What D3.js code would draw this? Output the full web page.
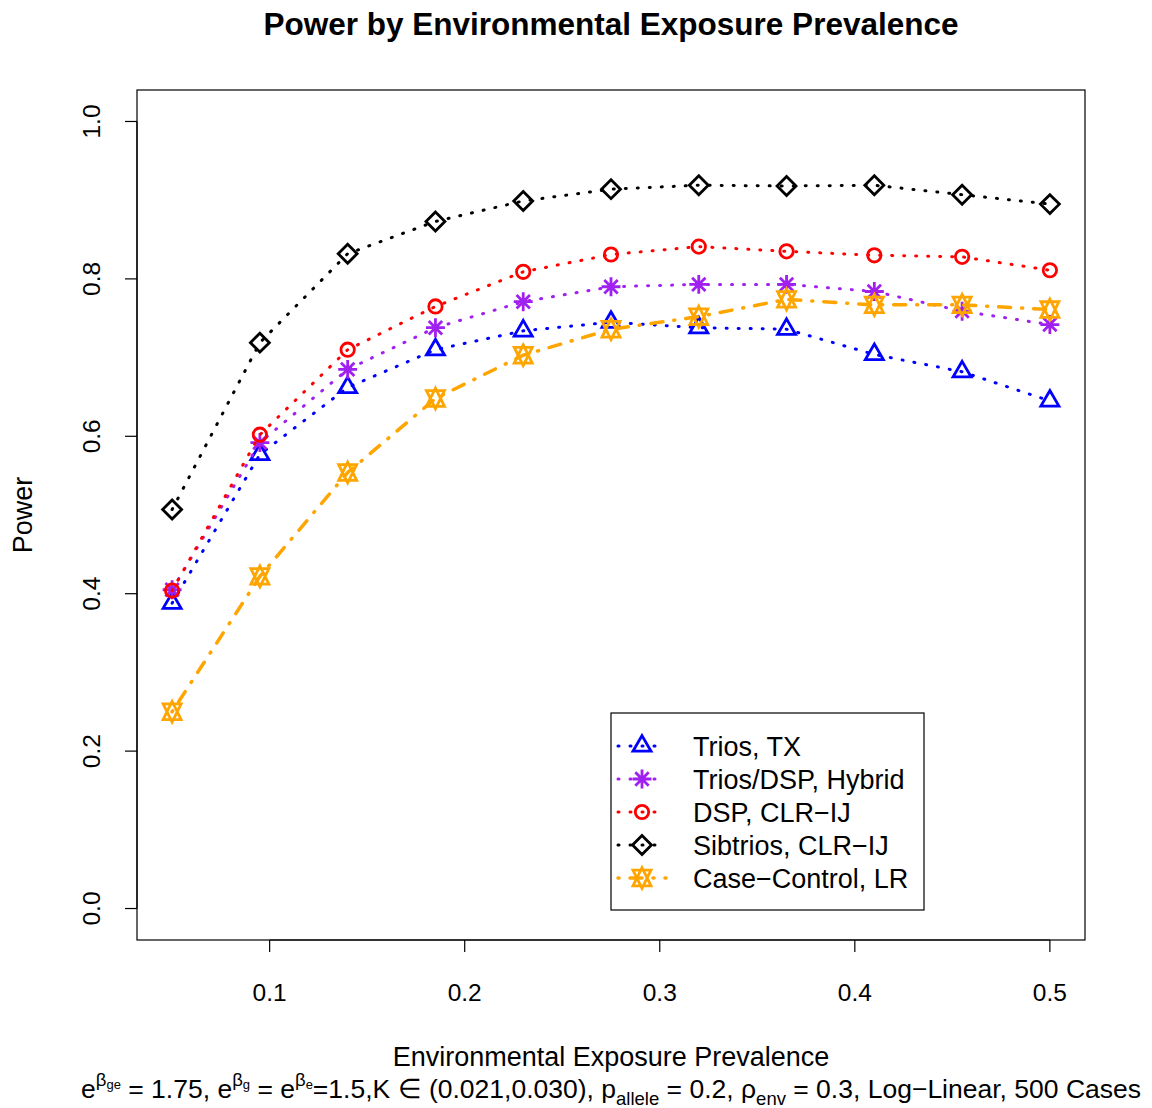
<!DOCTYPE html>
<html><head><meta charset="utf-8">
<script src="https://cdn.jsdelivr.net/npm/d3@7"></script>
<style>body{margin:0;background:#fff}</style>
</head><body>
<svg id="c" width="1152" height="1108"></svg>
<script>
const prevalence = [0.05, 0.095, 0.14, 0.185, 0.23, 0.275, 0.32, 0.365, 0.41, 0.455, 0.5];
const triosTX    = [0.388, 0.577, 0.662, 0.710, 0.734, 0.745, 0.738, 0.736, 0.704, 0.682, 0.645];
const hybrid     = [0.405, 0.592, 0.685, 0.738, 0.771, 0.790, 0.793, 0.793, 0.784, 0.759, 0.742];
const dspCLR     = [0.404, 0.602, 0.710, 0.765, 0.809, 0.831, 0.841, 0.835, 0.830, 0.828, 0.811];
const sibtrios   = [0.507, 0.719, 0.832, 0.873, 0.899, 0.914, 0.919, 0.918, 0.919, 0.907, 0.895];
const caseCtrl   = [0.250, 0.422, 0.554, 0.648, 0.703, 0.736, 0.752, 0.774, 0.767, 0.767, 0.761];
const seriesNames = ["Trios, TX", "Trios/DSP, Hybrid", "DSP, CLR\u2212IJ", "Sibtrios, CLR\u2212IJ", "Case\u2212Control, LR"];
const xTicks = [0.1, 0.2, 0.3, 0.4, 0.5];
const yTicks = [0.0, 0.2, 0.4, 0.6, 0.8, 1.0];

const series = [
  {name: seriesNames[0], values: triosTX,  color: "#0000FF", shape: "tri",   dash: "1 11", lw: 3},
  {name: seriesNames[1], values: hybrid,   color: "#A020F0", shape: "ast",   dash: "1 11", lw: 3},
  {name: seriesNames[2], values: dspCLR,   color: "#FF0000", shape: "circ",  dash: "1 11", lw: 3},
  {name: seriesNames[3], values: sibtrios, color: "#000000", shape: "diam",  dash: "1 11", lw: 3},
  {name: seriesNames[4], values: caseCtrl, color: "#FFA500", shape: "david", dash: "1 11 12 11", lw: 3.5}
];

const FONT = "'Liberation Sans', Arial, Helvetica, sans-serif";
const svg = d3.select("#c").style("font-family", FONT);
const L = 137, R = 1085, T = 90, B = 940;
const x = d3.scaleLinear().domain([0.032, 0.518]).range([L, R]);
const y = d3.scaleLinear().domain([-0.04, 1.04]).range([B, T]);

const u = 6.7;
function marker(g, shape, cx, cy, color) {
  const s = g.append("g").attr("transform", `translate(${cx},${cy})`)
    .attr("fill", "none").attr("stroke", color).attr("stroke-width", 2.8);
  if (shape === "tri") {
    const r = 1.555*u, yc = 0.7776*u, xc = 1.347*u;
    s.append("path").attr("d", `M0,${-r}L${xc},${yc}L${-xc},${yc}Z`);
  } else if (shape === "circ") {
    s.append("circle").attr("r", u);
  } else if (shape === "diam") {
    const r = 1.414*u;
    s.append("path").attr("d", `M0,${-r}L${r},0L0,${r}L${-r},0Z`);
  } else if (shape === "ast") {
    const p = 1.414*u, d = u;
    s.append("path").attr("d", `M${-p},0L${p},0M0,${-p}L0,${p}M${-d},${-d}L${d},${d}M${-d},${d}L${d},${-d}`);
  } else if (shape === "david") {
    const r = 1.555*u, yc = 0.5*(0.7776*u + r), xc = 1.347*u;
    s.append("path").attr("d", `M0,${-r}L${xc},${yc}L${-xc},${yc}ZM0,${r}L${xc},${-yc}L${-xc},${-yc}Z`);
  }
}

// title
svg.append("text").attr("x", 611).attr("y", 35).attr("text-anchor", "middle")
  .attr("font-size", 31.5).attr("font-weight", "bold").text("Power by Environmental Exposure Prevalence");

// box
svg.append("rect").attr("x", L).attr("y", T).attr("width", R-L).attr("height", B-T)
  .attr("fill", "none").attr("stroke", "#000").attr("stroke-width", 1.2);

// x axis
const gx = svg.append("g");
gx.append("line").attr("x1", x(0.1)).attr("x2", x(0.5)).attr("y1", B).attr("y2", B).attr("stroke", "#000").attr("stroke-width", 1.2);
xTicks.forEach(t => {
  gx.append("line").attr("x1", x(t)).attr("x2", x(t)).attr("y1", B).attr("y2", B+12).attr("stroke", "#000").attr("stroke-width", 1.2);
  gx.append("text").attr("x", x(t)).attr("y", 1001).attr("text-anchor", "middle").attr("font-size", 24.5).text(d3.format(".1f")(t));
});
// y axis
const gy = svg.append("g");
gy.append("line").attr("y1", y(0)).attr("y2", y(1)).attr("x1", L).attr("x2", L).attr("stroke", "#000").attr("stroke-width", 1.2);
yTicks.forEach(t => {
  gy.append("line").attr("y1", y(t)).attr("y2", y(t)).attr("x1", L).attr("x2", L-12).attr("stroke", "#000").attr("stroke-width", 1.2);
  gy.append("text").attr("transform", `translate(100,${y(t)}) rotate(-90)`).attr("text-anchor", "middle").attr("font-size", 24.5).text(d3.format(".1f")(t));
});

// axis titles
svg.append("text").attr("transform", `translate(32,${(T+B)/2}) rotate(-90)`).attr("text-anchor", "middle").attr("font-size", 27).text("Power");
svg.append("text").attr("x", 611).attr("y", 1066).attr("text-anchor", "middle").attr("font-size", 27).text("Environmental Exposure Prevalence");

// subtitle
const sub = svg.append("text").attr("x", 611).attr("y", 1098).attr("text-anchor", "middle").attr("font-size", 26.5);
const parts = [
  ["e",""],["\u03B2","sup"],["ge","supsub"],[" = 1.75, e",""],["\u03B2","sup"],["g","supsub"],[" = e",""],["\u03B2","sup"],["e","supsub"],
  ["=1.5,K \u2208 (0.021,0.030), p",""],["allele","sub"],[" = 0.2, \u03C1",""],["env","sub"],[" = 0.3, Log\u2212Linear, 500 Cases",""]
];
const shift = {"": 0, sup: -12, supsub: -9, sub: 7};
const fsz = {"": 26.5, sup: 18.5, supsub: 13, sub: 18.5};
parts.forEach(([t, k], i) => {
  const prev = i > 0 ? parts[i-1][1] : "";
  sub.append("tspan").text(t).attr("font-size", fsz[k]).attr("dy", shift[k] - shift[prev]);
});

// series
const line = d3.line().x((d, i) => x(prevalence[i])).y(d => y(d));
const plot = svg.append("g");
series.forEach(s => {
  plot.append("path").attr("d", line(s.values)).attr("fill", "none").attr("stroke", s.color)
    .attr("stroke-width", s.lw).attr("stroke-dasharray", s.dash).attr("stroke-linecap", "round");
  s.values.forEach((v, i) => marker(plot, s.shape, x(prevalence[i]), y(v), s.color));
});

// legend
const lg = svg.append("g");
lg.append("rect").attr("x", 611).attr("y", 713).attr("width", 313).attr("height", 197)
  .attr("fill", "#fff").attr("stroke", "#000").attr("stroke-width", 1.2);
series.forEach((s, i) => {
  const cy = 746 + i*33;
  lg.append("line").attr("x1", 618).attr("x2", 666).attr("y1", cy).attr("y2", cy)
    .attr("stroke", s.color).attr("stroke-width", s.lw).attr("stroke-dasharray", s.dash).attr("stroke-linecap", "round");
  marker(lg, s.shape, 642, cy, s.color);
  lg.append("text").attr("x", 693).attr("y", cy + 9.5).attr("font-size", 27).text(s.name);
});
</script>
</body></html>
